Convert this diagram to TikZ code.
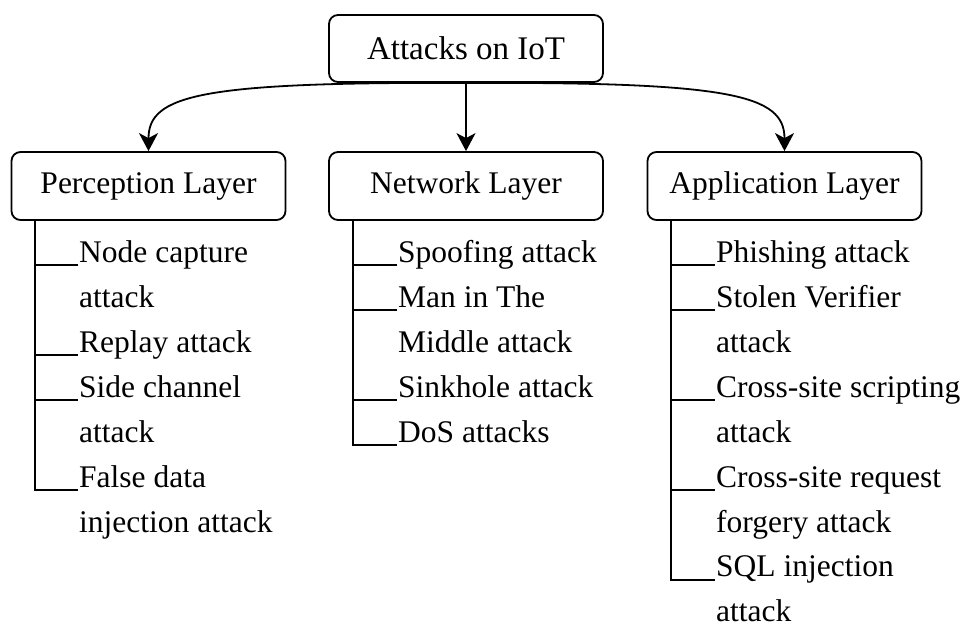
\documentclass[tikz,border=0pt]{standalone}
\usepackage{fontspec}
\setmainfont{Liberation Serif}
\usetikzlibrary{arrows.meta}
\begin{document}
\begin{tikzpicture}[x=1pt,y=-1pt,
  boxnode/.style={draw,line width=1.8pt,rounded corners=9pt,minimum width=274pt,inner sep=0pt,
    font=\fontsize{31.5}{45}\selectfont},
  itemnode/.style={anchor=base west,inner sep=0pt,align=left,font=\fontsize{31.5}{45}\selectfont},
  arr/.style={line width=1.8pt,-{Stealth[length=18pt,width=19pt,inset=5pt]}},
  tree/.style={line width=1.8pt}]
\useasboundingbox (0,0) rectangle (965,624);
% boxes
\node[boxnode,minimum height=67pt,font=\fontsize{33}{40}\selectfont] (top) at (466,48.5) {Attacks on IoT};
\node[boxnode,minimum height=68pt] (perc) at (148.5,186) {Perception Layer};
\node[boxnode,minimum height=68pt] (net) at (466,186) {Network Layer};
\node[boxnode,minimum height=68pt] (app) at (784.5,186) {Application Layer};
% connectors
\draw[arr] (top.south) .. controls (200,82) and (148.5,95) .. (perc.north);
\draw[arr] (top.south) -- (net.north);
\draw[arr] (top.south) .. controls (732,82) and (784.5,95) .. (app.north);
% perception items (anchor = baseline of last line)
\node[itemnode] (p1) at (79,307) {Node capture\\attack};
\node[itemnode] (p2) at (79,352) {Replay attack};
\node[itemnode] (p3) at (79,442) {Side channel\\attack};
\node[itemnode] (p4) at (79,532) {False data\\injection attack};
% network items
\node[itemnode] (n1) at (398,262) {Spoofing attack};
\node[itemnode] (n2) at (398,352) {Man in The\\Middle attack};
\node[itemnode] (n3) at (398,397) {Sinkhole attack};
\node[itemnode] (n4) at (398,442) {DoS attacks};
% application items
\node[itemnode] (a1) at (716,262) {Phishing attack};
\node[itemnode] (a2) at (716,352) {Stolen Verifier\\attack};
\node[itemnode] (a3) at (716,442) {Cross-site scripting\\attack};
\node[itemnode] (a4) at (716,532) {Cross-site request\\forgery attack};
\node[itemnode] (a5) at (716,621) {SQL injection\\attack};
% tree lines (to the first line of each item)
\foreach \n/\s in {p1/42,p2/-3,p3/42,p4/42}
  \draw[tree] (perc.south -| 35,0) |- ([xshift=-1pt,yshift=\s pt]\n.base west);
\foreach \n/\s in {n1/-3,n2/42,n3/-3,n4/-3}
  \draw[tree] (net.south -| 353,0) |- ([xshift=-1pt,yshift=\s pt]\n.base west);
\foreach \n/\s in {a1/-3,a2/42,a3/42,a4/42,a5/41}
  \draw[tree] (app.south -| 671,0) |- ([xshift=-1pt,yshift=\s pt]\n.base west);
\end{tikzpicture}
\end{document}
